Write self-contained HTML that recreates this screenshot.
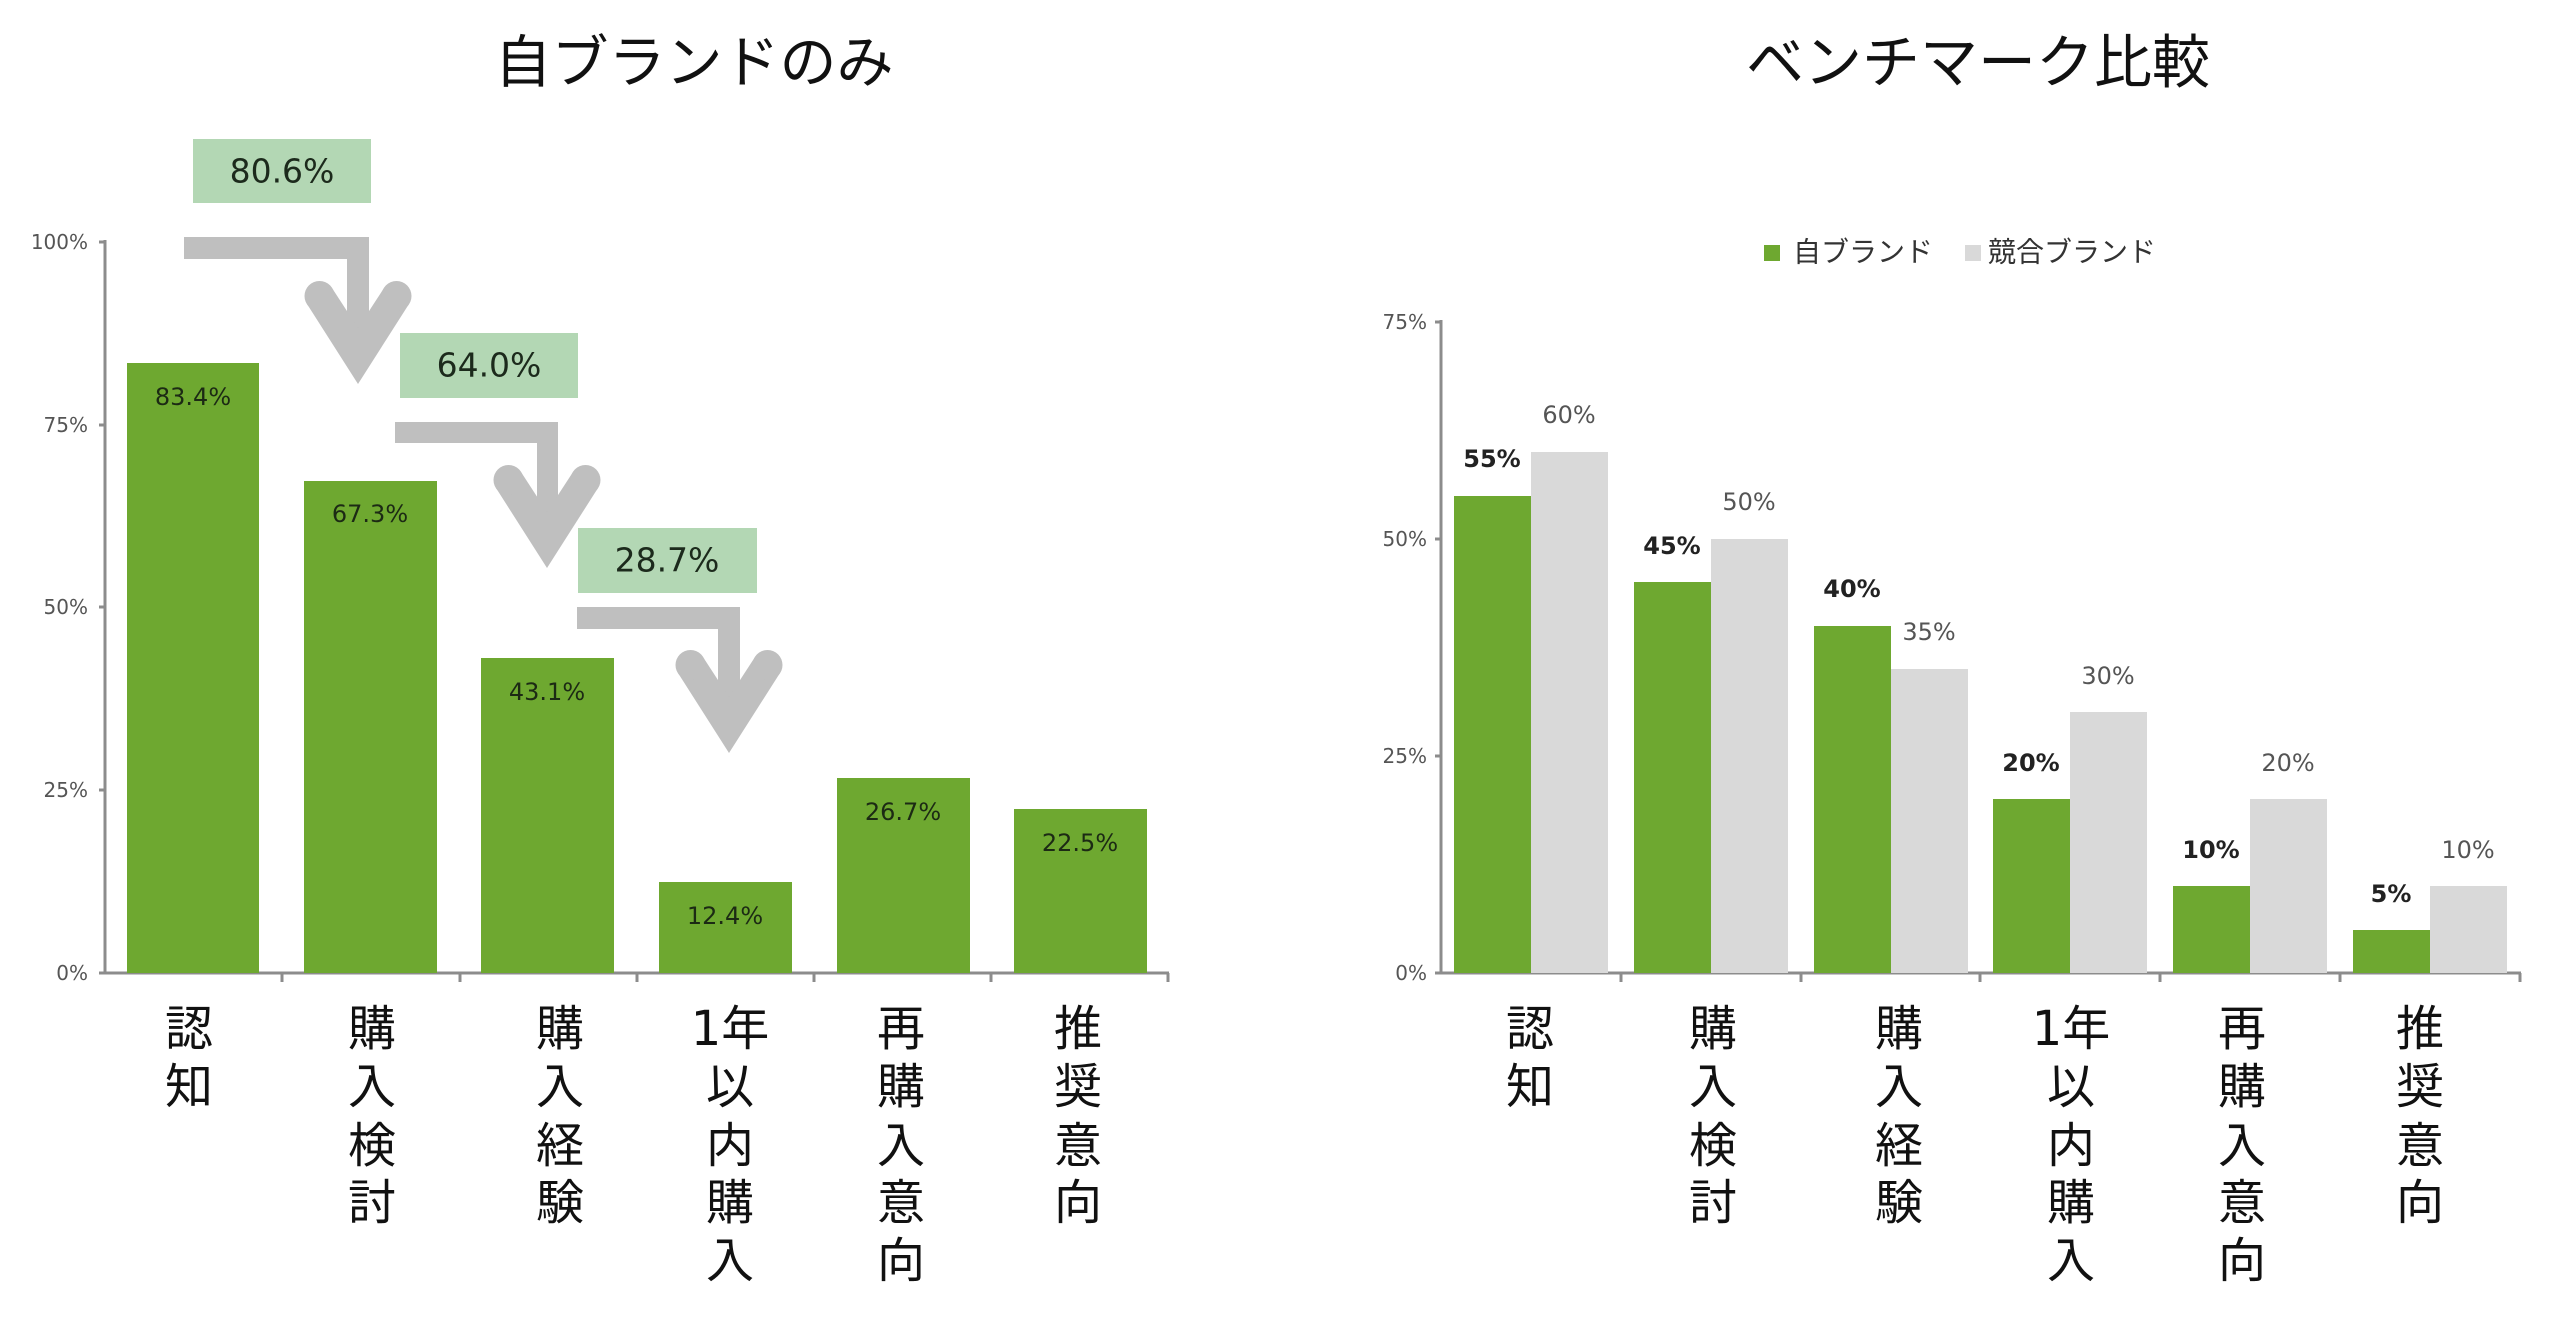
<!DOCTYPE html>
<html><head><meta charset="utf-8"><style>
html,body{margin:0;padding:0;background:#fff;}
svg{display:block;}
text{font-family:"DejaVu Sans","Liberation Sans","Noto Sans CJK JP",sans-serif;}
.jp{font-family:"Liberation Sans","Noto Sans CJK JP",sans-serif;}
</style></head><body>
<svg width="2560" height="1321" viewBox="0 0 2560 1321" xmlns="http://www.w3.org/2000/svg">
<!-- Titles -->
<text class="jp" x="694" y="63" font-size="57" text-anchor="middle" dominant-baseline="central" fill="#111">自ブランドのみ</text>
<text class="jp" x="1978" y="63" font-size="58" text-anchor="middle" dominant-baseline="central" fill="#111">ベンチマーク比較</text>

<!-- LEFT CHART -->
<g stroke="#8c8c8c" stroke-width="3" fill="none">
<line x1="105" y1="240" x2="105" y2="974"/>
<line x1="104" y1="973" x2="1169" y2="973"/>
<line x1="99" y1="242" x2="105" y2="242"/>
<line x1="99" y1="425" x2="105" y2="425"/>
<line x1="99" y1="607" x2="105" y2="607"/>
<line x1="99" y1="790" x2="105" y2="790"/>
<line x1="99" y1="973" x2="105" y2="973"/>
<line x1="282" y1="973" x2="282" y2="982"/>
<line x1="460" y1="973" x2="460" y2="982"/>
<line x1="637" y1="973" x2="637" y2="982"/>
<line x1="814" y1="973" x2="814" y2="982"/>
<line x1="991" y1="973" x2="991" y2="982"/>
<line x1="1168" y1="973" x2="1168" y2="982"/>
</g>
<g font-size="20" fill="#555" text-anchor="end" dominant-baseline="central">
<text x="88" y="242">100%</text><text x="88" y="425">75%</text><text x="88" y="607">50%</text><text x="88" y="790">25%</text><text x="88" y="973">0%</text>
</g>
<g fill="#6ea830">
<rect x="127" y="363" width="132" height="610"/>
<rect x="304" y="481" width="133" height="492"/>
<rect x="481" y="658" width="133" height="315"/>
<rect x="659" y="882" width="133" height="91"/>
<rect x="837" y="778" width="133" height="195"/>
<rect x="1014" y="809" width="133" height="164"/>
</g>
<g font-size="24" fill="#1c2a14" text-anchor="middle" dominant-baseline="central">
<text x="193" y="397">83.4%</text>
<text x="370" y="514">67.3%</text>
<text x="547" y="692">43.1%</text>
<text x="725" y="916">12.4%</text>
<text x="903" y="812">26.7%</text>
<text x="1080" y="843">22.5%</text>
</g>
<!-- boxes -->
<g fill="#b3d7b4">
<rect x="193" y="139" width="178" height="64"/>
<rect x="400" y="333" width="178" height="65"/>
<rect x="578" y="528" width="179" height="65"/>
</g>
<g font-size="33" fill="#1c2a1c" text-anchor="middle" dominant-baseline="central">
<text x="282" y="171">80.6%</text>
<text x="489" y="365">64.0%</text>
<text x="667" y="560">28.7%</text>
</g>
<!-- arrows -->
<g fill="#bfbfbf">
<rect x="184" y="237" width="185" height="22"/>
<rect x="347" y="237" width="22" height="110"/>
<rect x="395" y="422" width="163" height="21"/>
<rect x="537" y="422" width="21" height="110"/>
<rect x="577" y="607" width="163" height="22"/>
<rect x="718" y="607" width="22" height="110"/>
<!-- chevron 1 tip (358,384) -->
<polygon points="307,304 358,384 409,304 384,288 358,328 332,288"/>
<circle cx="319.5" cy="296" r="15"/><circle cx="396.5" cy="296" r="15"/>
<!-- chevron 2 tip (547,568) -->
<polygon points="496,488 547,568 598,488 573,472 547,512 521,472"/>
<circle cx="508.5" cy="480" r="15"/><circle cx="585.5" cy="480" r="15"/>
<!-- chevron 3 tip (729,753) -->
<polygon points="678,673 729,753 780,673 755,657 729,697 703,657"/>
<circle cx="690.5" cy="665" r="15"/><circle cx="767.5" cy="665" r="15"/>
</g>
<!-- left x labels -->
<g class="jp" font-size="48" fill="#111" text-anchor="middle" dominant-baseline="central">
<text x="189" y="1029">認</text><text x="189" y="1087">知</text>
<text x="372" y="1029">購</text><text x="372" y="1087">入</text><text x="372" y="1146">検</text><text x="372" y="1203">討</text>
<text x="560" y="1029">購</text><text x="560" y="1087">入</text><text x="560" y="1146">経</text><text x="560" y="1203">験</text>
<text x="730" y="1029">1年</text><text x="730" y="1087">以</text><text x="730" y="1146">内</text><text x="730" y="1203">購</text><text x="730" y="1261">入</text>
<text x="901" y="1029">再</text><text x="901" y="1087">購</text><text x="901" y="1146">入</text><text x="901" y="1203">意</text><text x="901" y="1261">向</text>
<text x="1078" y="1029">推</text><text x="1078" y="1087">奨</text><text x="1078" y="1146">意</text><text x="1078" y="1203">向</text>
</g>

<!-- RIGHT CHART -->
<rect x="1764" y="245" width="16" height="16" fill="#6ea830"/>
<text class="jp" x="1793" y="252" font-size="28" fill="#333" dominant-baseline="central">自ブランド</text>
<rect x="1965" y="245" width="16" height="16" fill="#d9d9d9"/>
<text class="jp" x="1988" y="252" font-size="28" fill="#333" dominant-baseline="central">競合ブランド</text>
<g stroke="#8c8c8c" stroke-width="3" fill="none">
<line x1="1441" y1="320" x2="1441" y2="974"/>
<line x1="1440" y1="973" x2="2521" y2="973"/>
<line x1="1435" y1="322" x2="1441" y2="322"/>
<line x1="1435" y1="539" x2="1441" y2="539"/>
<line x1="1435" y1="756" x2="1441" y2="756"/>
<line x1="1435" y1="973" x2="1441" y2="973"/>
<line x1="1621" y1="973" x2="1621" y2="982"/>
<line x1="1801" y1="973" x2="1801" y2="982"/>
<line x1="1980" y1="973" x2="1980" y2="982"/>
<line x1="2160" y1="973" x2="2160" y2="982"/>
<line x1="2340" y1="973" x2="2340" y2="982"/>
<line x1="2520" y1="973" x2="2520" y2="982"/>
</g>
<g font-size="20" fill="#555" text-anchor="end" dominant-baseline="central">
<text x="1427" y="322">75%</text><text x="1427" y="539">50%</text><text x="1427" y="756">25%</text><text x="1427" y="973">0%</text>
</g>
<g fill="#6ea830">
<rect x="1454" y="496" width="77" height="477"/>
<rect x="1634" y="582" width="77" height="391"/>
<rect x="1814" y="626" width="77" height="347"/>
<rect x="1993" y="799" width="77" height="174"/>
<rect x="2173" y="886" width="77" height="87"/>
<rect x="2353" y="930" width="77" height="43"/>
</g>
<g fill="#d9d9d9">
<rect x="1531" y="452" width="77" height="521"/>
<rect x="1711" y="539" width="77" height="434"/>
<rect x="1891" y="669" width="77" height="304"/>
<rect x="2070" y="712" width="77" height="261"/>
<rect x="2250" y="799" width="77" height="174"/>
<rect x="2430" y="886" width="77" height="87"/>
</g>
<g font-size="24" fill="#222" font-weight="bold" text-anchor="middle" dominant-baseline="central">
<text x="1492" y="459">55%</text>
<text x="1672" y="546">45%</text>
<text x="1852" y="589">40%</text>
<text x="2031" y="763">20%</text>
<text x="2211" y="850">10%</text>
<text x="2391" y="894">5%</text>
</g>
<g font-size="24" fill="#555" text-anchor="middle" dominant-baseline="central">
<text x="1569" y="415">60%</text>
<text x="1749" y="502">50%</text>
<text x="1929" y="632">35%</text>
<text x="2108" y="676">30%</text>
<text x="2288" y="763">20%</text>
<text x="2468" y="850">10%</text>
</g>
<g class="jp" font-size="48" fill="#111" text-anchor="middle" dominant-baseline="central">
<text x="1530" y="1029">認</text><text x="1530" y="1087">知</text>
<text x="1713" y="1029">購</text><text x="1713" y="1087">入</text><text x="1713" y="1146">検</text><text x="1713" y="1203">討</text>
<text x="1899" y="1029">購</text><text x="1899" y="1087">入</text><text x="1899" y="1146">経</text><text x="1899" y="1203">験</text>
<text x="2071" y="1029">1年</text><text x="2071" y="1087">以</text><text x="2071" y="1146">内</text><text x="2071" y="1203">購</text><text x="2071" y="1261">入</text>
<text x="2242" y="1029">再</text><text x="2242" y="1087">購</text><text x="2242" y="1146">入</text><text x="2242" y="1203">意</text><text x="2242" y="1261">向</text>
<text x="2420" y="1029">推</text><text x="2420" y="1087">奨</text><text x="2420" y="1146">意</text><text x="2420" y="1203">向</text>
</g>
</svg>
</body></html>
